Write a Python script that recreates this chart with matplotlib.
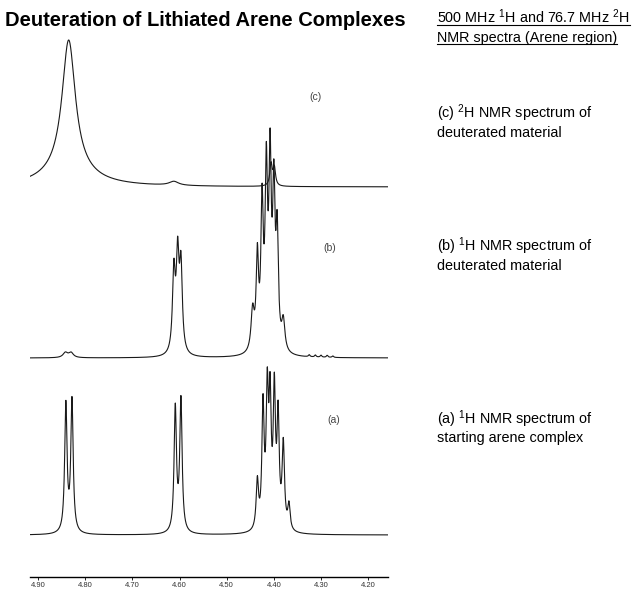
import matplotlib.pyplot as plt
import numpy as np
from matplotlib.lines import Line2D

plt.rcParams['font.family'] = ['Liberation Sans', 'DejaVu Sans']
plt.rcParams['mathtext.fontset'] = 'custom'
plt.rcParams['mathtext.rm'] = 'Liberation Sans'

# chemical shift axis (ppm)
ppm_ticks = [4.90, 4.80, 4.70, 4.60, 4.50, 4.40, 4.30, 4.20]
tick_labels = ['4.90', '4.80', '4.70', '4.60', '4.50', '4.40', '4.30', '4.20']

# peak lists: position (ppm), height, half width (ppm)
# (c) 2H spectrum of deuterated material
c_pos = [4.835, 4.835, 4.612, 4.406, 4.399]
c_height = [132, 15, 4, 22, 18]
c_hwhm = [0.017, 0.06, 0.012, 0.003, 0.003]

# (b) 1H spectrum of deuterated material
b_pos = [4.842, 4.830, 4.612, 4.604, 4.597,
         4.445, 4.435, 4.425, 4.416, 4.408, 4.400, 4.393, 4.380,
         4.325, 4.312, 4.300, 4.287, 4.275]
b_height = [5, 5, 80, 92, 84,
            40, 90, 140, 170, 180, 150, 110, 30,
            2, 2, 2, 2, 1.5]
b_hwhm = [0.006, 0.006, 0.0035, 0.0035, 0.0035,
          0.004, 0.003, 0.003, 0.003, 0.003, 0.003, 0.003, 0.004,
          0.002, 0.002, 0.002, 0.002, 0.002]

# (a) 1H spectrum of starting arene complex
a_pos = [4.841, 4.828, 4.609, 4.597,
         4.435, 4.423, 4.414, 4.408, 4.399, 4.391, 4.380, 4.368]
a_height = [128, 132, 124, 132,
            48, 120, 128, 120, 132, 108, 84, 25]
a_hwhm = [0.003, 0.003, 0.003, 0.003,
          0.003, 0.0028, 0.0028, 0.0028, 0.0028, 0.0028, 0.003, 0.003]

# vertical stacking of the three traces
trace_offset = {'a': 42, 'b': 219, 'c': 390}


def spectrum(x, pos, height, hwhm):
    y = np.zeros_like(x)
    for p, h, w in zip(pos, height, hwhm):
        y += h / (1 + ((x - p) / w) ** 2)
    return y


W, H = 632, 591
fig = plt.figure(figsize=(W / 100, H / 100), dpi=100)
ax = fig.add_axes([30 / W, 14 / H, 358 / W, 550 / H])

x = np.linspace(4.917, 4.158, 4000)
for pos, height, hwhm, key in [(a_pos, a_height, a_hwhm, 'a'),
                               (b_pos, b_height, b_hwhm, 'b'),
                               (c_pos, c_height, c_hwhm, 'c')]:
    ax.plot(x, trace_offset[key] + spectrum(x, pos, height, hwhm),
            color='#1a1a1a', lw=0.8)

ax.set_xlim(4.917, 4.158)
ax.set_ylim(0, 550)
for s in ['top', 'left', 'right']:
    ax.spines[s].set_visible(False)
ax.spines['bottom'].set_linewidth(1.0)
ax.set_yticks([])
ax.set_xticks(ppm_ticks)
ax.set_xticklabels(tick_labels, fontsize=5.5, color='#333333')
ax.tick_params(axis='x', direction='out', length=2.5, width=0.6, pad=0.8)

# trace labels
ax.text(4.312, 480, '(c)', fontsize=7.5, color='#444444', ha='center', va='center')
ax.text(4.281, 329, '(b)', fontsize=7.5, color='#444444', ha='center', va='center')
ax.text(4.274, 157, '(a)', fontsize=7.5, color='#444444', ha='center', va='center')


def ftext(px, py, s, **kw):
    return fig.text(px / W, 1 - py / H, s, va='center', **kw)


ftext(5, 20, 'Deuteration of Lithiated Arene Complexes',
      fontsize=14.5, fontweight='bold')

head1 = ftext(437, 17, r'500 MHz $\mathregular{^{1}}$H and 76.7 MHz $\mathregular{^{2}}$H', fontsize=10.4)
head2 = ftext(437, 38, 'NMR spectra (Arene region)', fontsize=10.4)

ftext(437, 113, r'(c) $\mathregular{^{2}}$H NMR spectrum of', fontsize=10.4)
ftext(437, 133, 'deuterated material', fontsize=10.4)
ftext(437, 246, r'(b) $\mathregular{^{1}}$H NMR spectrum of', fontsize=10.4)
ftext(437, 266, 'deuterated material', fontsize=10.4)
ftext(437, 419, r'(a) $\mathregular{^{1}}$H NMR spectrum of', fontsize=10.4)
ftext(437, 438, 'starting arene complex', fontsize=10.4)

# underline the header
fig.canvas.draw()
for t in (head1, head2):
    bb = t.get_window_extent()
    yline = bb.y0 + 1
    fig.add_artist(Line2D([bb.x0 / W, bb.x1 / W], [yline / H, yline / H],
                          transform=fig.transFigure, color='black', lw=0.8))

fig.savefig('out.png', dpi=100)
